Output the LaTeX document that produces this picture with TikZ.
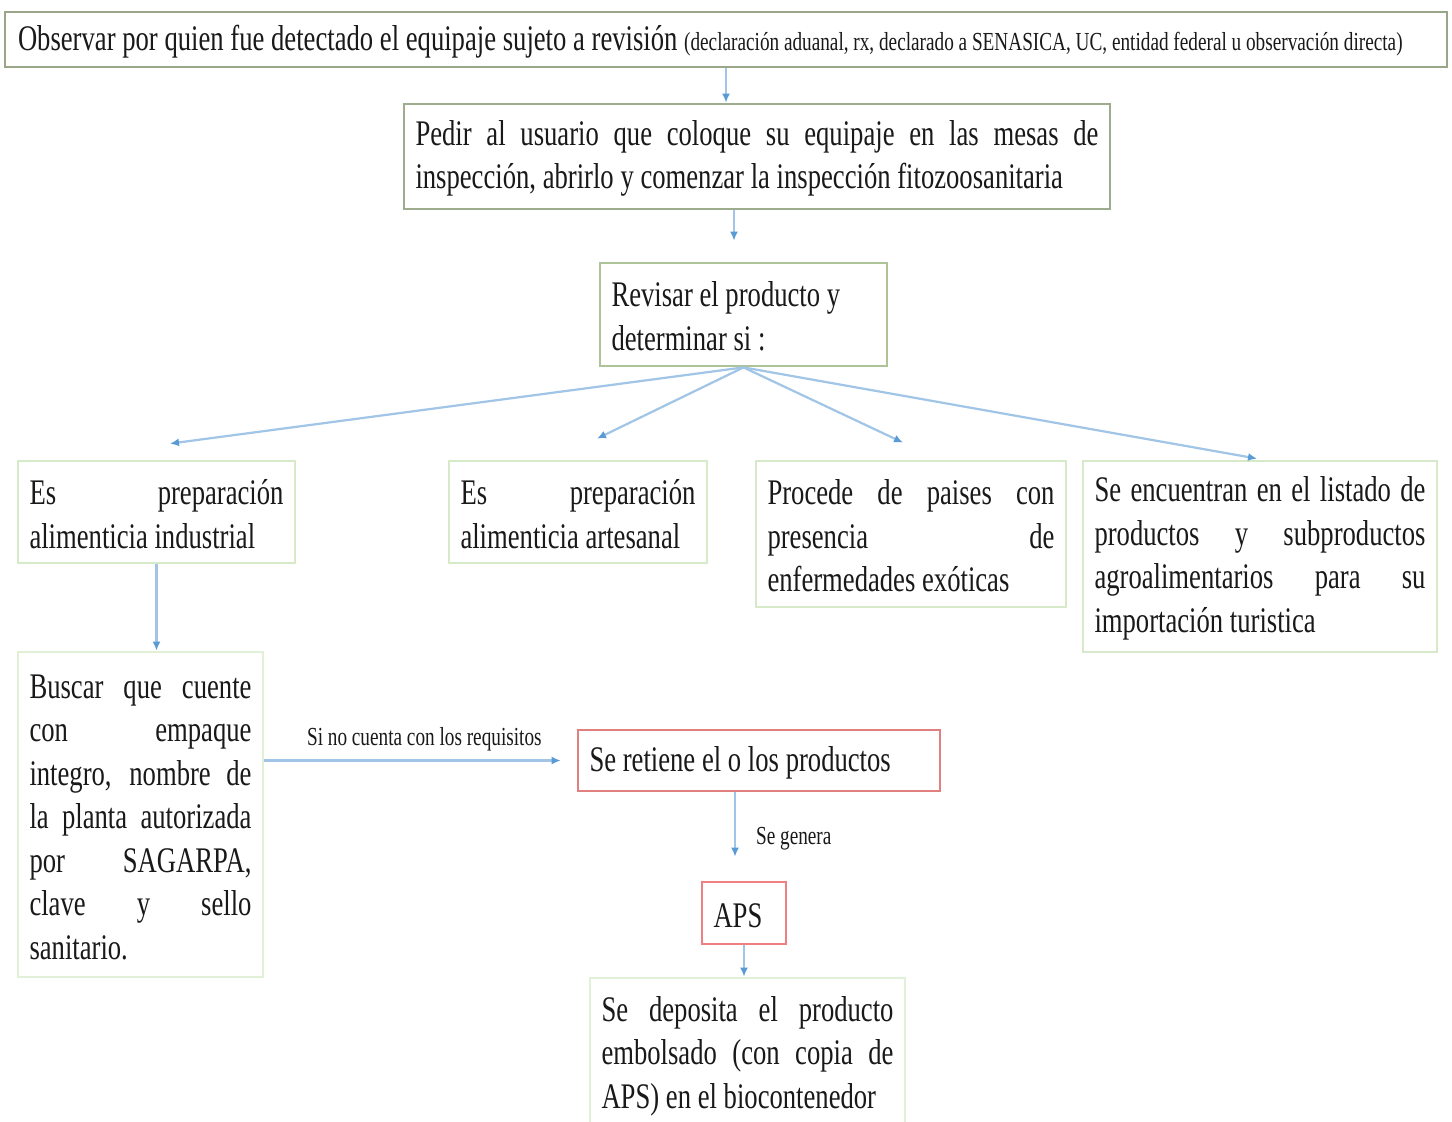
\documentclass[tikz,border=0pt]{standalone}
\usepackage{fontspec}
\setmainfont{Liberation Serif}[FakeStretch=0.74]
\usetikzlibrary{arrows.meta,calc}
\definecolor{bordA}{RGB}{154,166,138}
\definecolor{bordB}{RGB}{156,172,140}
\definecolor{bordC}{RGB}{172,196,152}
\definecolor{bordD}{RGB}{214,233,200}
\definecolor{bordE}{RGB}{226,240,216}
\definecolor{bordR}{RGB}{226,128,128}
\definecolor{bordS}{RGB}{240,128,128}
\definecolor{lineblue}{RGB}{160,197,230}
\definecolor{tipblue}{RGB}{91,155,213}
\definecolor{textc}{RGB}{25,25,25}
\newlength{\boxw}
\newcommand{\bigf}{\fontsize{36}{43.5}\selectfont}
\newcommand{\smallf}{\fontsize{26}{30}\selectfont\spaceskip=4.8pt plus 6pt minus 1.5pt\xspaceskip=\spaceskip\relax}
\newcommand{\bigsp}{\spaceskip=6.7pt plus 8pt minus 2pt\xspaceskip=\spaceskip\relax}
\newcommand{\JustL}[1]{\hbox to\boxw{\bigsp #1}}
\newcommand{\LeftL}[1]{\hbox to\boxw{\bigsp #1\hfil}}
\tikzset{
  box/.style={draw, rectangle, line width=2.8pt, inner xsep=11.5pt, inner ysep=0pt,
    font=\bigf, text=textc},
  tw/.style={text width=#1, execute at begin node={\global\boxw=#1\relax\rule{0pt}{29pt}}},
  arr/.style={draw=lineblue, line width=2.2pt, -{Latex[length=9pt,width=8pt,color=tipblue]}},
  lbl/.style={font=\smallf, inner sep=0pt, text=textc}
}
\begin{document}
\begin{tikzpicture}[x=1pt,y=-1pt]
\useasboundingbox (0,0) rectangle (1452,1122);
\fill[white] (0,0) rectangle (1452,1122);

\node[box, draw=bordA, minimum width=1442pt, minimum height=55pt, tw=1416pt] (b1) at (726,39.5)
  {\LeftL{Observar por quien fue detectado el equipaje sujeto a revisión {\smallf (declaración aduanal, rx, declarado a SENASICA, UC, entidad federal u observación directa)}}};

\node[box, draw=bordB, minimum width=706pt, minimum height=105pt, tw=683pt] (b2) at (757,156.5)
  {\JustL{Pedir al usuario que coloque su equipaje en las mesas de}
   \LeftL{inspección, abrirlo y comenzar la inspección fitozoosanitaria}};

\node[box, draw=bordC, minimum width=287pt, minimum height=103pt, tw=264pt] (b3) at (743.5,314.5)
  {\LeftL{Revisar el producto y}
   \LeftL{determinar si :}};

\node[box, draw=bordD, minimum width=277pt, minimum height=102pt, tw=254pt] (b4) at (156.5,512)
  {\JustL{Es preparación}
   \LeftL{alimenticia industrial}};

\node[box, draw=bordD, minimum width=258pt, minimum height=102pt, tw=235pt] (b5) at (578,512)
  {\JustL{Es preparación}
   \LeftL{alimenticia artesanal}};

\node[box, draw=bordD, minimum width=310pt, minimum height=146pt, tw=287pt] (b6) at (911,534)
  {\JustL{Procede de paises con}
   \JustL{presencia de}
   \LeftL{enfermedades exóticas}};

\node[box, draw=bordD, minimum width=354pt, minimum height=191pt, tw=331pt] (b7) at (1260,556.5)
  {\JustL{Se encuentran en el listado de}
   \JustL{productos y subproductos}
   \JustL{agroalimentarios para su}
   \LeftL{importación turistica}};

\node[box, draw=bordE, minimum width=245pt, minimum height=325pt, tw=222pt] (b8) at (140.5,814.5)
  {\JustL{Buscar que cuente}
   \JustL{con empaque}
   \JustL{integro, nombre de}
   \JustL{la planta autorizada}
   \JustL{por SAGARPA,}
   \JustL{clave y sello}
   \LeftL{sanitario.}};

\node[box, draw=bordR, minimum width=362pt, minimum height=61pt, tw=339pt] (red) at (759,760.5)
  {\LeftL{Se retiene el o los productos}};

\node[box, draw=bordS, minimum width=84pt, minimum height=62pt, tw=61pt] (aps) at (744,913)
  {\LeftL{APS}};

\node[box, draw=bordE, minimum width=315pt, minimum height=152pt, tw=292pt] (last) at (747.5,1054)
  {\JustL{Se deposita el producto}
   \JustL{embolsado (con copia de}
   \LeftL{APS) en el biocontenedor}};

% connectors
\draw[arr] (b1.south) -- (b1.south |- b2.north);
\draw[arr] ([xshift=-9.5pt]b3.north |- b2.south) -- ([xshift=-9.5pt,yshift=21pt]b3.north);
\draw[arr] (b3.south) -- ([xshift=13.5pt,yshift=16pt]b4.north);
\draw[arr] (b3.south) -- ([xshift=19pt,yshift=21pt]b5.north);
\draw[arr] (b3.south) -- ([xshift=-8pt,yshift=17pt]b6.north);
\draw[arr] (b3.south) -- ([xshift=-3pt,yshift=1pt]b7.north);
\draw[arr] (b4.south) -- (b4.south |- b8.north);
\draw[arr] (b8.east |- red.west) -- node[lbl, above=8pt, pos=0.54] {Si no cuenta con los requisitos} ([xshift=-16pt]red.west);
\draw[arr] ([xshift=-9pt]aps.north |- red.south) -- node[lbl, right=20pt, pos=0.72] {Se genera} ([xshift=-9pt,yshift=24pt]aps.north);
\draw[arr] (aps.south) -- (aps.south |- last.north);
\end{tikzpicture}
\end{document}
